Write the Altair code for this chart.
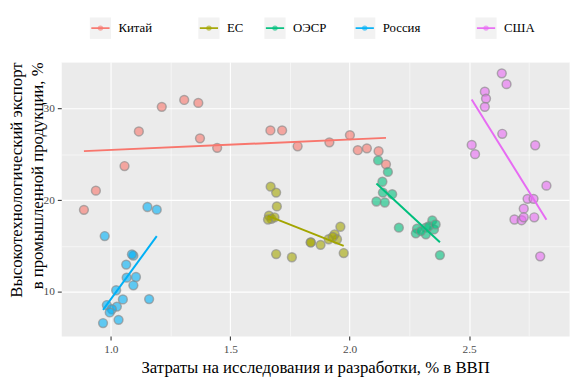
import altair as alt
import pandas as pd

countries = ["Китай", "ЕС", "ОЭСР", "Россия", "США"]
colors = ["#F8766D", "#A3A500", "#00BF7D", "#00B0F6", "#E76BF3"]

china_rd = [0.887, 0.937, 1.057, 1.117, 1.213, 1.307, 1.366, 1.373, 1.445,
            1.668, 1.717, 1.782, 1.915, 2.001, 2.034, 2.072, 2.121, 2.152]
china_hte = [18.94, 21.03, 23.71, 27.47, 30.15, 30.90, 30.58, 26.72, 25.69,
             27.58, 27.58, 25.86, 26.29, 27.08, 25.43, 25.64, 25.32, 23.89]

eu_rd = [1.669, 1.692, 1.695, 1.662, 1.672, 1.685, 1.658, 1.837, 1.837,
         1.878, 1.912, 1.937, 1.947, 1.961, 1.975, 1.692, 1.758, 1.929]
eu_hte = [21.46, 20.82, 19.31, 18.32, 17.96, 18.13, 17.89, 15.39, 15.39,
          15.13, 15.74, 16.28, 15.74, 17.10, 14.24, 14.13, 13.78, 15.99]

oecd_rd = [2.119, 2.160, 2.137, 2.139, 2.178, 2.112, 2.147, 2.206, 2.346,
           2.353, 2.282, 2.319, 2.277, 2.319, 2.332, 2.378, 2.298, 2.360]
oecd_hte = [24.32, 23.07, 22.00, 20.82, 20.64, 19.85, 19.74, 17.00, 17.78,
            16.81, 16.89, 17.00, 16.38, 16.28, 17.17, 14.02, 16.63, 17.35]

russia_rd = [1.153, 1.192, 0.974, 1.094, 1.088, 1.064, 1.066, 1.105, 1.094,
             1.022, 1.050, 1.160, 0.983, 1.025, 1.004, 0.995, 1.032, 0.967]
russia_hte = [19.25, 18.96, 16.09, 13.95, 14.10, 12.98, 11.56, 11.63, 10.73,
              10.19, 9.19, 9.23, 8.58, 8.41, 8.12, 7.77, 6.97, 6.62]

usa_rd = [2.637, 2.657, 2.566, 2.571, 2.566, 2.639, 2.511, 2.525, 2.777,
          2.824, 2.745, 2.770, 2.729, 2.690, 2.720, 2.729, 2.773, 2.798]
usa_hte = [33.80, 32.62, 31.80, 31.05, 30.15, 27.22, 26.01, 25.00, 25.97,
           21.57, 20.14, 20.14, 19.07, 17.89, 17.81, 18.13, 18.13, 13.88]

series = {
    "Китай": (china_rd, china_hte),
    "ЕС": (eu_rd, eu_hte),
    "ОЭСР": (oecd_rd, oecd_hte),
    "Россия": (russia_rd, russia_hte),
    "США": (usa_rd, usa_hte),
}
rows = []
for name, (xs, ys) in series.items():
    for xv, yv in zip(xs, ys):
        rows.append({"country": name, "rd": xv, "hte": yv})
df = pd.DataFrame(rows)

# legend layout (pixels relative to plot area)
legend_key_left = [29, 139, 206, 297, 420]
leg = pd.DataFrame({"country": countries, "kx": legend_key_left})

FONT = "Liberation Serif"
xdom = [0.792, 2.919]
ydom = [5.21, 35.05]
color = alt.Color("country:N", scale=alt.Scale(domain=countries, range=colors), legend=None)

x_main = alt.X("rd:Q", scale=alt.Scale(domain=xdom, nice=False, zero=False),
               axis=alt.Axis(values=[1.0, 1.5, 2.0, 2.5], format=".1f", grid=True,
                             gridColor="white", gridWidth=1.1, domain=False,
                             tickColor="#333333", tickSize=4, tickWidth=1.07,
                             labelFont=FONT, labelFontSize=11.5, labelColor="#4D4D4D",
                             labelPadding=4,
                             title="Затраты на исследования и разработки, % в ВВП",
                             titleFont=FONT, titleFontSize=17, titleFontWeight="normal",
                             titleColor="black", titleBaseline="alphabetic", titleY=37.5))
y_main = alt.Y("hte:Q", scale=alt.Scale(domain=ydom, nice=False, zero=False),
               axis=alt.Axis(values=[10, 20, 30], grid=True,
                             gridColor="white", gridWidth=1.1, domain=False,
                             tickColor="#333333", tickSize=4, tickWidth=1.07,
                             labelFont=FONT, labelFontSize=11.5, labelColor="#4D4D4D",
                             labelPadding=3,
                             title=["Высокотехнологический экспорт", "в промышленной продукции, %"],
                             titleFont=FONT, titleFontSize=17, titleFontWeight="normal",
                             titleColor="black", titleAnchor="end", titleAngle=270,
                             titleAlign="right", titleBaseline="top",
                             titleX=-53, titleY=0, titleLineHeight=21))

points = alt.Chart(df).mark_circle(
    size=80, stroke="#8A8A8A", strokeWidth=1.5, fillOpacity=0.6, strokeOpacity=0.65
).encode(x=x_main, y=y_main, color=color)

x_minor = alt.X("rd:Q", scale=alt.Scale(domain=xdom, nice=False, zero=False),
                axis=alt.Axis(values=[1.25, 1.75, 2.25, 2.75], grid=True, gridColor="white",
                              gridWidth=0.55, labels=False, ticks=False, domain=False, title=None))
y_minor = alt.Y("hte:Q", scale=alt.Scale(domain=ydom, nice=False, zero=False),
                axis=alt.Axis(values=[15, 25, 35], grid=True, gridColor="white",
                              gridWidth=0.55, labels=False, ticks=False, domain=False, title=None))

lines = alt.Chart(df).transform_regression(
    "rd", "hte", groupby=["country"]
).mark_line(strokeWidth=2).encode(x=x_minor, y=y_minor, color=color)

leg_base = alt.Chart(leg).transform_calculate(
    kx2="datum.kx + 21.5", lx1="datum.kx + 1.5", lx2="datum.kx + 20",
    cx="datum.kx + 10.75", tx="datum.kx + 29"
)
leg_box = leg_base.mark_rect(color="#F2F2F2").encode(
    x=alt.X("kx:Q", scale=None, axis=None), x2="kx2:Q",
    y=alt.value(-45), y2=alt.value(-23.3))
leg_line = leg_base.mark_rule(strokeWidth=1.7).encode(
    x=alt.X("lx1:Q", scale=None, axis=None), x2="lx2:Q",
    y=alt.value(-34.2), color=color)
leg_pt = leg_base.mark_circle(size=30, opacity=0.6).encode(
    x=alt.X("cx:Q", scale=None, axis=None), y=alt.value(-34.2), color=color)
leg_txt = leg_base.mark_text(align="left", baseline="middle", font=FONT,
                             fontSize=13, color="black").encode(
    x=alt.X("tx:Q", scale=None, axis=None), y=alt.value(-34), text="country:N")

chart = alt.layer(points, lines, leg_box, leg_line, leg_pt, leg_txt).resolve_axis(
    x="independent", y="independent"
).properties(
    width=515, height=278,
    autosize=alt.AutoSizeParams(type="none"),
    padding={"left": 54, "top": 52, "right": 8, "bottom": 40},
).configure_view(fill="#EBEBEB", stroke="transparent")

chart.save("out.html", embed_options={"renderer": "svg", "actions": False})
